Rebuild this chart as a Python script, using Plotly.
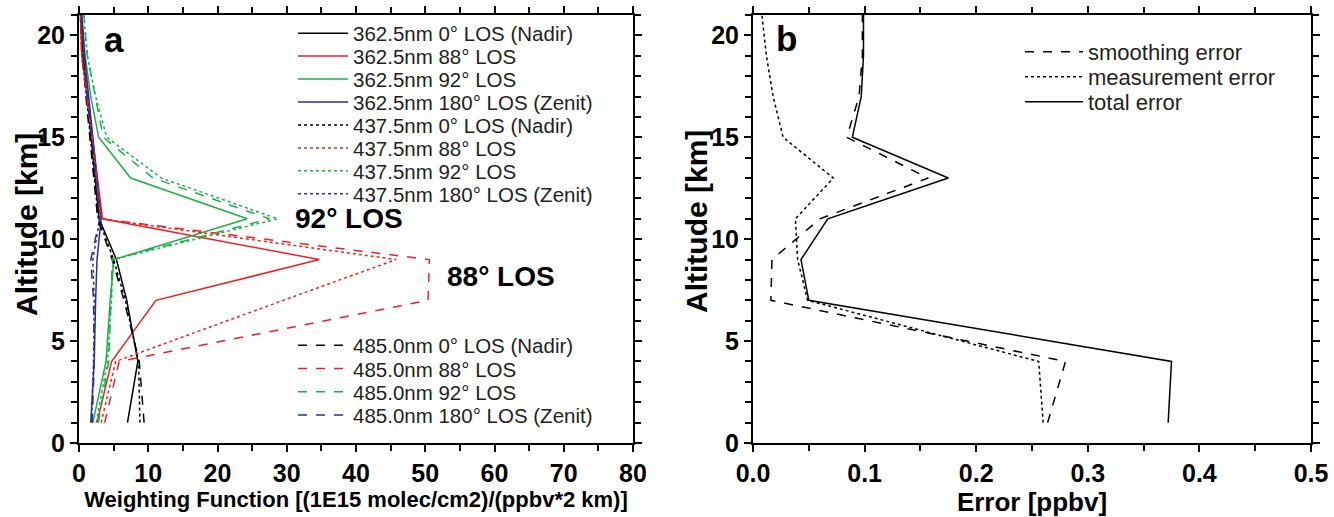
import plotly.graph_objects as go

# ---------------- data ----------------
alt = [1, 4, 7, 9, 11, 13, 15, 17, 19, 21]

# panel a : weighting functions
wf_3625_0 = [7.0, 8.5, 6.9, 5.4, 2.9, 2.3, 1.7, 1.1, 0.6, 0.3]
wf_3625_88 = [2.6, 4.7, 11.1, 34.7, 3.4, 2.7, 2.0, 1.2, 0.4, 0.2]
wf_3625_92 = [2.0, 3.9, 4.5, 5.05, 24.3, 7.45, 2.84, 1.7, 0.9, 0.4]
wf_3625_180 = [1.7, 2.2, 2.4, 2.6, 3.2, 2.6, 2.0, 1.3, 0.8, 0.4]
wf_4375_0 = [8.8, 8.6, 6.7, 5.0, 2.8, 2.2, 1.6, 1.0, 0.5, 0.2]
wf_4375_88 = [3.2, 5.3, 29.5, 45.8, 3.2, 2.6, 1.9, 1.1, 0.4, 0.2]
wf_4375_92 = [2.5, 4.1, 4.7, 4.9, 28.7, 11.9, 4.0, 2.4, 1.2, 0.7]
wf_4375_180 = [1.8, 2.1, 2.2, 2.0, 3.0, 2.5, 1.9, 1.2, 0.7, 0.3]
wf_4850_0 = [9.4, 8.7, 6.5, 4.8, 2.7, 2.1, 1.5, 1.0, 0.5, 0.2]
wf_4850_88 = [3.7, 5.8, 50.4, 50.6, 3.2, 2.6, 1.9, 1.1, 0.4, 0.2]
wf_4850_92 = [2.8, 4.3, 4.6, 4.8, 27.5, 10.7, 3.5, 2.3, 1.2, 0.7]
wf_4850_180 = [1.9, 2.2, 2.1, 1.7, 3.0, 2.5, 1.9, 1.2, 0.7, 0.3]

# panel b : errors
err_smoothing = [0.264, 0.280, 0.016, 0.017, 0.060, 0.157, 0.084, 0.095, 0.098, 0.098]
err_measurement = [0.260, 0.256, 0.049, 0.040, 0.038, 0.072, 0.027, 0.018, 0.012, 0.008]
err_total = [0.372, 0.375, 0.050, 0.043, 0.067, 0.175, 0.089, 0.097, 0.099, 0.099]

names_a = [
    "362.5nm 0° LOS (Nadir)", "362.5nm 88° LOS", "362.5nm 92° LOS", "362.5nm 180° LOS (Zenit)",
    "437.5nm 0° LOS (Nadir)", "437.5nm 88° LOS", "437.5nm 92° LOS", "437.5nm 180° LOS (Zenit)",
    "485.0nm 0° LOS (Nadir)", "485.0nm 88° LOS", "485.0nm 92° LOS", "485.0nm 180° LOS (Zenit)",
]
names_b = ["smoothing error", "measurement error", "total error"]

# ---------------- styling ----------------
BLACK = "#000000"
RED = "#ED2024"
GREEN = "#1DB04A"
BLUE = "#2B2F8F"
colors = [BLACK, RED, GREEN, BLUE]

FAM = "Liberation Sans, Arial, Helvetica, sans-serif"
TICKFONT = dict(family=FAM, size=25, color="black", weight="bold")
LEGFONT = dict(family=FAM, size=20.5, color="#231f20")
LEGFONT_B = dict(family=FAM, size=22, color="#231f20")

W, H = 1334, 517
ML, MR, MT, MB = 79, 23, 15, 74
PW = W - ML - MR
PH = H - MT - MB


def px_x(p):
    return (p - ML) / PW


def px_y(p):
    return (H - MB - p) / PH


# legend row centres (pixels)
rows_a = [33.3 + 22.95 * i for i in range(8)] + [345.5 + 23.2 * i for i in range(4)]
rows_b = [52, 77, 102]

fig = go.Figure()
layout_legends = {}

series_a = [wf_3625_0, wf_3625_88, wf_3625_92, wf_3625_180,
            wf_4375_0, wf_4375_88, wf_4375_92, wf_4375_180,
            wf_4850_0, wf_4850_88, wf_4850_92, wf_4850_180]
dashes = ["solid", "dot", "dash"]
for i, (xs, nm) in enumerate(zip(series_a, names_a)):
    lg = "legend" if i == 0 else "legend%d" % (i + 1)
    fig.add_trace(go.Scatter(
        x=xs, y=alt, mode="lines", name=nm,
        line=dict(color=colors[i % 4], dash=dashes[i // 4], width=1.5),
        xaxis="x", yaxis="y", legend=lg,
    ))
    layout_legends[lg] = dict(x=px_x(293), y=px_y(rows_a[i]), xanchor="left", yanchor="middle",
                              bgcolor="rgba(0,0,0,0)", font=LEGFONT, itemwidth=50,
                              tracegroupgap=0)

for j, (xs, nm, d) in enumerate(zip([err_smoothing, err_measurement, err_total], names_b,
                                    ["dash", "dot", "solid"])):
    lg = "legend%d" % (13 + j)
    fig.add_trace(go.Scatter(
        x=xs, y=alt, mode="lines", name=nm,
        line=dict(color=BLACK, dash=d, width=1.5),
        xaxis="x2", yaxis="y2", legend=lg,
    ))
    layout_legends[lg] = dict(x=px_x(1020), y=px_y(rows_b[j]), xanchor="left", yanchor="middle",
                              bgcolor="rgba(0,0,0,0)", font=LEGFONT_B, itemwidth=58,
                              tracegroupgap=0)

axis_common = dict(
    showline=True, linecolor="black", linewidth=2, mirror="ticks",
    ticks="outside", ticklen=7, tickwidth=1.5, tickcolor="black",
    showgrid=False, zeroline=False, tickfont=TICKFONT, automargin=False,
)
minor_common = dict(ticks="outside", ticklen=6, tickcolor="black", tickwidth=1.5)

fig.update_layout(
    width=W, height=H,
    margin=dict(l=ML, r=MR, t=MT, b=MB, autoexpand=False),
    paper_bgcolor="white", plot_bgcolor="white",
    xaxis=dict(domain=[0, px_x(633)], range=[0, 80], dtick=10,
               minor=dict(dtick=5, **minor_common),
               title=dict(text="Weighting Function [(1E15 molec/cm2)/(ppbv*2 km)]",
                          font=dict(family=FAM, size=22, color="black", weight="bold"), standoff=2),
               anchor="y", **axis_common),
    yaxis=dict(domain=[0, 1], range=[0, 21], dtick=5,
               minor=dict(dtick=1, **minor_common),
               anchor="x", **axis_common),
    xaxis2=dict(domain=[px_x(753), 1], range=[0, 0.5], dtick=0.1, tickformat=".1f",
                minor=dict(dtick=0.05, **minor_common),
                title=dict(text="Error [ppbv]",
                           font=dict(family=FAM, size=26, color="black", weight="bold"), standoff=15),
                anchor="y2", **axis_common),
    yaxis2=dict(domain=[0, 1], range=[0, 21], dtick=5,
                minor=dict(dtick=1, **minor_common),
                anchor="x2", **axis_common),
    showlegend=True,
    annotations=[
        dict(text="Altitude [km]", textangle=-90, x=px_x(26), y=px_y(225), xref="paper", yref="paper",
             xanchor="center", yanchor="middle", showarrow=False,
             font=dict(family=FAM, size=30, color="black", weight="bold")),
        dict(text="Altitude [km]", textangle=-90, x=px_x(696), y=px_y(222), xref="paper", yref="paper",
             xanchor="center", yanchor="middle", showarrow=False,
             font=dict(family=FAM, size=30, color="black", weight="bold")),
        dict(text="a", x=3.3, y=19.8, xref="x", yref="y", xanchor="left", yanchor="middle",
             showarrow=False, font=dict(family=FAM, size=35, color="black", weight="bold")),
        dict(text="b", x=0.019, y=19.85, xref="x2", yref="y2", xanchor="left", yanchor="middle",
             showarrow=False, font=dict(family=FAM, size=35, color="black", weight="bold")),
        dict(text="92° LOS", x=30.9, y=11.03, xref="x", yref="y", xanchor="left", yanchor="middle",
             showarrow=False, font=dict(family=FAM, size=28, color="black", weight="bold")),
        dict(text="88° LOS", x=52.8, y=8.18, xref="x", yref="y", xanchor="left", yanchor="middle",
             showarrow=False, font=dict(family=FAM, size=28, color="black", weight="bold")),
    ],
    **layout_legends,
)

fig.write_html("out.html")
